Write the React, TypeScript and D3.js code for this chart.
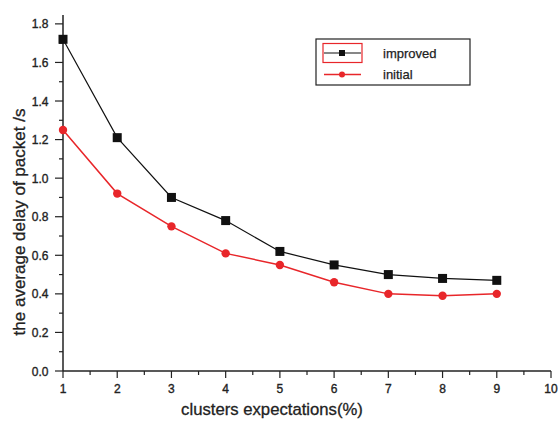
import React from "react";
import * as d3 from "d3";

const xValues = [1, 2, 3, 4, 5, 6, 7, 8, 9];
const improved = [1.72, 1.21, 0.9, 0.78, 0.62, 0.55, 0.5, 0.48, 0.47];
const initial = [1.25, 0.92, 0.75, 0.61, 0.55, 0.46, 0.4, 0.39, 0.4];
const xTicks = [1, 2, 3, 4, 5, 6, 7, 8, 9, 10];
const yTicks = [0, 0.2, 0.4, 0.6, 0.8, 1.0, 1.2, 1.4, 1.6, 1.8];
const seriesNames = ["improved", "initial"];

const W = 558, H = 422;
const FONT = "'Liberation Sans', Arial, sans-serif";

export default function App() {
  const x = d3.scaleLinear().domain([1, 10]).range([63, 551]);
  const y = d3.scaleLinear().domain([0, 1.846]).range([371, 15]);
  const line = d3.line<number>().x((_, i) => x(xValues[i])).y((d) => y(d));
  const xMinor = d3.range(1, 10.01, 0.5);
  const yMinor = d3.range(0, 1.81, 0.1);
  const BLACK = "#111";
  const RED = "#e8262a";
  const TXT = "#222";
  return (
    <svg width={W} height={H} style={{ position: "absolute", left: 0, top: 0, background: "#fff" }}>
      {/* axes */}
      <line x1={x(1)} x2={x(1)} y1={y(0)} y2={y(1.846)} stroke="#222" strokeWidth={1.5} />
      <line x1={x(1)} x2={x(10)} y1={y(0)} y2={y(0)} stroke="#222" strokeWidth={1.5} />
      {yMinor.map((v, i) => (
        <line key={"ym" + i} x1={x(1) - (i % 2 === 0 ? 8 : 4)} x2={x(1)} y1={y(v)} y2={y(v)} stroke="#222" strokeWidth={1.2} />
      ))}
      {xMinor.map((v, i) => (
        <line key={"xm" + i} x1={x(v)} x2={x(v)} y1={y(0)} y2={y(0) + (i % 2 === 0 ? 7 : 4)} stroke="#222" strokeWidth={1.2} />
      ))}
      {yTicks.map((v) => (
        <text key={"yt" + v} x={48.5} y={y(v) + 4.5} textAnchor="end" fontFamily={FONT} fontSize={12} fill={TXT} stroke={TXT} strokeWidth={0.35}>
          {v.toFixed(1)}
        </text>
      ))}
      {xTicks.map((v) => (
        <text key={"xt" + v} x={x(v)} y={393} textAnchor="middle" fontFamily={FONT} fontSize={12} fill={TXT} stroke={TXT} strokeWidth={0.35}>
          {v}
        </text>
      ))}
      <text x={272} y={415} textAnchor="middle" fontFamily={FONT} fontSize={16.7} fill={TXT} stroke={TXT} strokeWidth={0.3}>
        clusters expectations(%)
      </text>
      <text transform={`translate(25,222) rotate(-90)`} textAnchor="middle" fontFamily={FONT} fontSize={17} fill={TXT} stroke={TXT} strokeWidth={0.3}>
        the average delay of packet /s
      </text>
      {/* series */}
      <path d={line(improved) || ""} fill="none" stroke={BLACK} strokeWidth={1.2} />
      <path d={line(initial) || ""} fill="none" stroke={RED} strokeWidth={1.5} />
      {improved.map((v, i) => (
        <rect key={"ip" + i} x={x(xValues[i]) - 4.5} y={y(v) - 4.5} width={9} height={9} fill={BLACK} />
      ))}
      {initial.map((v, i) => (
        <circle key={"in" + i} cx={x(xValues[i])} cy={y(v)} r={4.2} fill={RED} />
      ))}
      {/* legend */}
      <rect x={316} y={39} width={154} height={46} fill="#fff" stroke="#222" strokeWidth={1.2} />
      <rect x={323} y={43.5} width={39} height={19} fill="none" stroke={RED} strokeWidth={1.2} />
      <line x1={324} x2={361} y1={53} y2={53} stroke={BLACK} strokeWidth={1.2} />
      <rect x={339} y={50} width={6} height={6} fill={BLACK} />
      <line x1={324} x2={361} y1={74.5} y2={74.5} stroke={RED} strokeWidth={1.5} />
      <circle cx={342} cy={74.5} r={3} fill={RED} />
      <text x={383} y={57.5} fontFamily={FONT} fontSize={13} fill={TXT} stroke={TXT} strokeWidth={0.25}>{seriesNames[0]}</text>
      <text x={383} y={78.5} fontFamily={FONT} fontSize={13} fill={TXT} stroke={TXT} strokeWidth={0.25}>{seriesNames[1]}</text>
    </svg>
  );
}
